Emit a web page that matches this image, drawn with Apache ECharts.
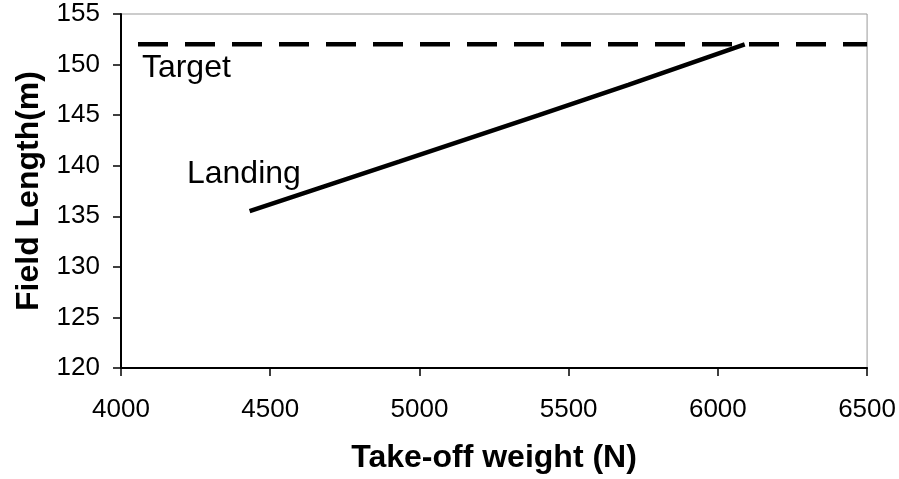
<!DOCTYPE html>
<html>
<head>
<meta charset="utf-8">
<script src="https://cdn.jsdelivr.net/npm/echarts@6/dist/echarts.min.js"></script>
<style>
  html, body { margin: 0; padding: 0; background: #fff; }
  #chart { width: 899px; height: 479px; }
</style>
</head>
<body>
<div id="chart"></div>
<script>
// Landing field length versus take-off weight, with the field length target
const landingWeight = [4431, 4932, 5400, 5700, 6090];
const landingLength = [135.5, 140.4, 145.0, 148.0, 152.0];
const targetWeight = [4057, 6500];
const targetLength = [152, 152];

const xTicks = { min: 4000, max: 6500, interval: 500 };
const yTicks = { min: 120, max: 155, interval: 5 };

const seriesNames = ['Landing', 'Target'];
// label anchors (left edge, text middle) in data space
const labelAnchors = [[4221, 139.2], [4070, 149.6]];

const FONT = '"Liberation Sans", Arial, sans-serif';

const zip = (xs, ys) => xs.map((x, i) => [x, ys[i]]);

const chart = echarts.init(document.getElementById('chart'), null, { renderer: 'canvas' });

chart.setOption({
  animation: false,
  backgroundColor: '#fff',
  textStyle: { fontFamily: FONT, color: '#000' },
  grid: {
    left: 121, top: 14, right: 30, bottom: 110,
    show: true, borderColor: '#999', borderWidth: 1
  },
  xAxis: {
    type: 'value',
    min: xTicks.min, max: xTicks.max, interval: xTicks.interval,
    name: 'Take-off weight (N)',
    nameLocation: 'middle',
    nameGap: 74,
    nameTextStyle: { fontFamily: FONT, fontSize: 32, fontWeight: 'bold', color: '#000' },
    axisLine: { show: true, lineStyle: { color: '#000', width: 2 } },
    axisTick: { show: true, inside: false, length: 8, lineStyle: { color: '#000', width: 1.5 } },
    axisLabel: { fontFamily: FONT, fontSize: 26, color: '#000', margin: 29, formatter: v => String(v) },
    splitLine: { show: false }
  },
  yAxis: {
    type: 'value',
    min: yTicks.min, max: yTicks.max, interval: yTicks.interval,
    name: 'Field Length(m)',
    nameLocation: 'middle',
    nameGap: 76,
    nameRotate: 90,
    nameTextStyle: { fontFamily: FONT, fontSize: 32, fontWeight: 'bold', color: '#000' },
    axisLine: { show: true, lineStyle: { color: '#000', width: 2 } },
    axisTick: { show: true, inside: false, length: 8, lineStyle: { color: '#000', width: 1.5 } },
    axisLabel: { fontFamily: FONT, fontSize: 26, color: '#000', margin: 21, formatter: v => String(v) },
    splitLine: { show: false }
  },
  series: [
    {
      name: seriesNames[0],
      type: 'line',
      data: zip(landingWeight, landingLength),
      showSymbol: false,
      symbol: 'none',
      lineStyle: { color: '#000', width: 4.5 },
      z: 3
    },
    {
      name: seriesNames[1],
      type: 'line',
      data: zip(targetWeight, targetLength),
      showSymbol: false,
      symbol: 'none',
      lineStyle: { color: '#000', width: 4.5, type: [30, 17], cap: 'butt' },
      z: 3
    }
  ]
});

// series name labels placed at data-space anchors
chart.setOption({
  graphic: labelAnchors.map((p, i) => {
    const [px, py] = chart.convertToPixel({ gridIndex: 0 }, p);
    return {
      type: 'text',
      x: px, y: py,
      z: 10,
      style: {
        text: seriesNames[i],
        fontFamily: FONT,
        fontSize: 32,
        fill: '#000',
        textAlign: 'left',
        textVerticalAlign: 'middle'
      }
    };
  })
});
</script>
</body>
</html>
